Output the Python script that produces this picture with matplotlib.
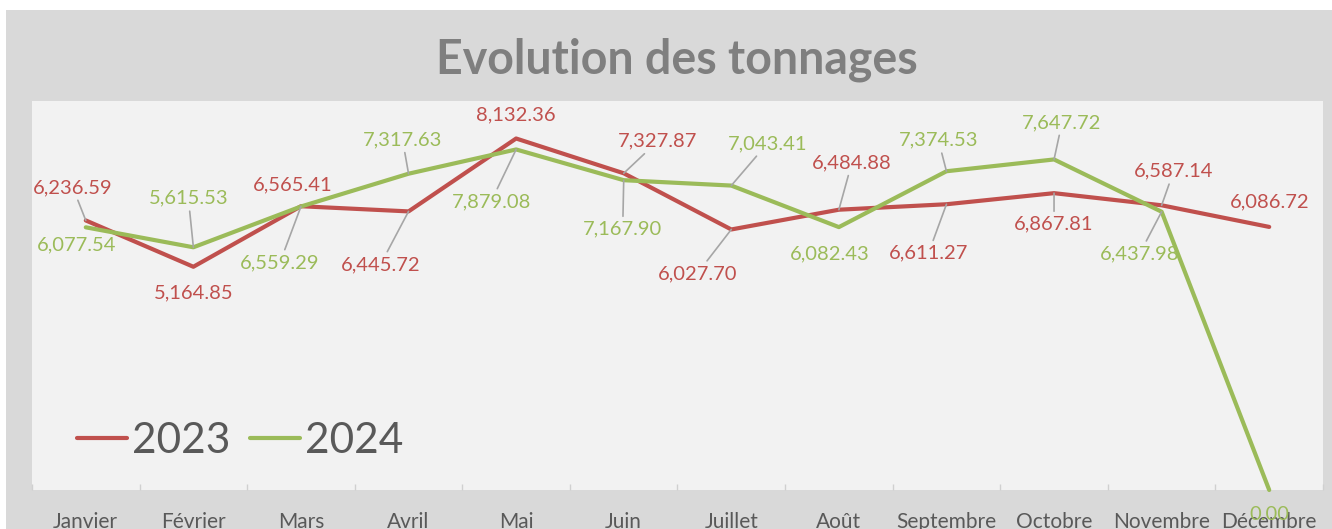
import matplotlib
matplotlib.use('Agg')
import matplotlib.pyplot as plt
from matplotlib.patches import Rectangle
from matplotlib.lines import Line2D

plt.rcParams['font.family'] = ['Lato', 'DejaVu Sans']

months = ['Janvier', 'Février', 'Mars', 'Avril', 'Mai', 'Juin', 'Juillet',
          'Août', 'Septembre', 'Octobre', 'Novembre', 'Décembre']
tonnes_2023 = [6236.59, 5164.85, 6565.41, 6445.72, 8132.36, 7327.87,
               6027.70, 6484.88, 6611.27, 6867.81, 6587.14, 6086.72]
tonnes_2024 = [6077.54, 5615.53, 6559.29, 7317.63, 7879.08, 7167.90,
               7043.41, 6082.43, 7374.53, 7647.72, 6437.98, 0.00]

RED = '#C0504D'
GREEN = '#9BBB59'

# label placement (pixel offsets from point) + whether a leader line is drawn
off_2023 = [(-13, 33), (0, -26), (-8, 21), (-28, -53), (0, 24), (34, 32),
            (-34, -44), (13, 47), (-18, -49), (0, -31), (12, 34), (0, 25)]
lead_2023 = [1, 0, 0, 1, 0, 1, 1, 1, 1, 1, 1, 0]
off_2024 = [(-9, -18), (-5, 49), (-21, -56), (-6, 34), (-25, -52), (-1, -49),
            (36, 42), (-9, -27), (-8, 31), (8, 37), (-22, -42), (0, -25)]
lead_2024 = [0, 1, 1, 1, 1, 1, 1, 0, 1, 1, 1, 0]

W, H = 1332, 529
fig = plt.figure(figsize=(W / 100, H / 100), dpi=100, facecolor='white')
fig.patches.append(Rectangle((6 / W, 0), 1 - 6 / W, (H - 10) / H,
                             transform=fig.transFigure, facecolor='#D9D9D9',
                             edgecolor='none', zorder=-10))

ax = fig.add_axes([32 / W, (H - 490) / H, (1323 - 32) / W, (490 - 101) / H])
ax.set_facecolor('#F2F2F2')
for s in ax.spines.values():
    s.set_visible(False)

x = list(range(len(months)))
ax.plot(x, tonnes_2023, color=RED, lw=3, solid_capstyle='round', clip_on=False, zorder=3)
ax.plot(x, tonnes_2024, color=GREEN, lw=3, solid_capstyle='round', clip_on=False, zorder=3)

ax.set_xlim(-0.5, len(months) - 0.5)
ax.set_ylim(0, 9000)
ax.set_yticks([])
ax.set_xticks(x)
ax.set_xticklabels(months, fontsize=15, color='#595959')
ax.tick_params(axis='x', which='major', length=0, pad=16)
ax.set_xticks([i - 0.5 for i in range(len(months) + 1)], minor=True)
ax.tick_params(axis='x', which='minor', direction='in', length=4, color='#D0D0D0', width=1)


def label_series(values, offsets, leads, color):
    for i, v in enumerate(values):
        dx, dy = offsets[i]
        arrow = None
        if leads[i]:
            arrow = dict(arrowstyle='-', color='#A6A6A6', lw=1.2, shrinkA=1, shrinkB=0)
        ax.annotate(f'{v:,.2f}', xy=(i, v), xytext=(dx, dy), textcoords='offset pixels',
                    ha='center', va='center', fontsize=14.5, color=color,
                    bbox=dict(boxstyle='square,pad=0.15', fc='none', ec='none'),
                    arrowprops=arrow, annotation_clip=False, zorder=4)


label_series(tonnes_2023, off_2023, lead_2023, RED)
label_series(tonnes_2024, off_2024, lead_2024, GREEN)

fig.text(677 / W, (H - 60) / H, 'Evolution des tonnages', ha='center', va='center',
         fontsize=33.5, fontweight='bold', color='#7F7F7F')

handles = [Line2D([], [], color=RED, lw=3, solid_capstyle='round'),
           Line2D([], [], color=GREEN, lw=3, solid_capstyle='round')]
ax.legend(handles, ['2023', '2024'], loc='center left', ncol=2, frameon=False,
          bbox_to_anchor=((77 - 32) / 1291, (490 - 441) / 389), borderaxespad=0,
          borderpad=0, fontsize=30.5, labelcolor='#595959', handlelength=1.18,
          handletextpad=0.12, columnspacing=0.47)

fig.savefig('out.png', dpi=100, facecolor='white')
